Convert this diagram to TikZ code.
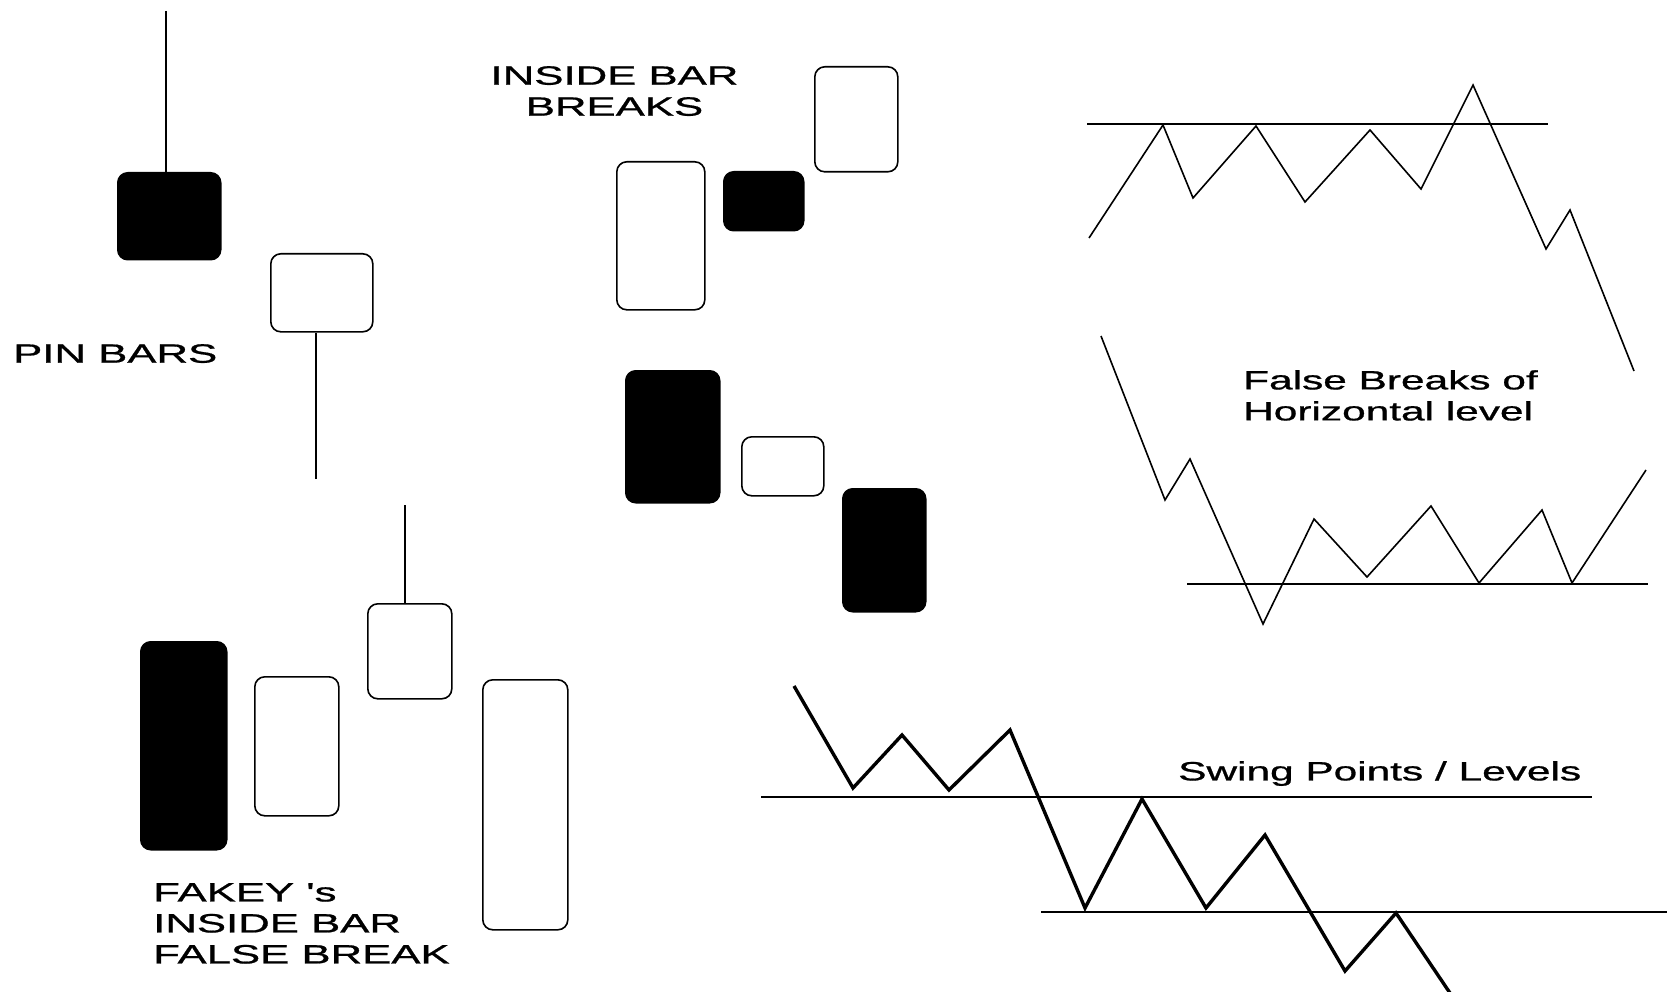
\documentclass[tikz,border=0pt]{standalone}
\usepackage{fontspec}
\setmainfont{Liberation Sans}
\newfontfamily\lblfont[FakeBold=0.7]{Liberation Sans}
\usepackage{graphicx}
\newcommand\widetxt[1]{\scalebox{1.6}[1]{#1}}
\newcommand\widecaps[1]{\scalebox{1.65}[1]{#1}}
\begin{document}
\begin{tikzpicture}[x=1pt,y=-1pt,
  bear/.style={draw=black, fill=black, line width=1.5pt, rounded corners=10pt, inner sep=0pt, anchor=north west},
  bull/.style={draw=black, fill=white, line width=1.6pt, rounded corners=10pt, inner sep=0pt, anchor=north west},
  wick/.style={line width=1.8pt},
  lbl/.style={inner sep=0pt, font=\lblfont\fontsize{26.5}{31}\selectfont, text=black},
  level/.style={line width=2.4pt},
  thinpath/.style={line width=1.6pt, line join=miter},
  thickpath/.style={line width=3.4pt, line join=miter}
]
\fill[white] (0,0) rectangle (1675,992);
\useasboundingbox (0,0) rectangle (1675,992);

% ---- Pin bars ----
\node[bear, minimum width=103pt, minimum height=87pt] (pb1) at (117,172) {};
\node[bull, minimum width=102pt, minimum height=78pt] (pb2) at (270,253) {};
\coordinate (pbw1) at (166,11);
\coordinate (pbw2) at (316,479);
\draw[wick] (pbw1) -- (pbw1 |- pb1.north);
\draw[wick] (pbw2) -- (pbw2 |- pb2.south);
\node[lbl, anchor=north west] (pinlbl) at (13,344) {\widecaps{PIN BARS}};

% ---- Inside bar breaks ----
\node[bull, minimum width=88pt, minimum height=148pt] (ib1) at (616,161) {};
\node[bear, minimum width=80pt, minimum height=59pt] (ib2) at (723,171) {};
\node[bull, minimum width=83pt, minimum height=105pt] (ib3) at (814,66) {};
\node[bear, minimum width=94pt, minimum height=132pt] (ib4) at (625,370) {};
\node[bull, minimum width=82pt, minimum height=59pt] (ib5) at (741,436) {};
\node[bear, minimum width=83pt, minimum height=123pt] (ib6) at (842,488) {};
\node[lbl, anchor=north, align=center] (iblbl) at (614.5,66) {\widecaps{INSIDE BAR}\\\widecaps{BREAKS}};

% ---- Fakey ----
\node[bear, minimum width=86pt, minimum height=208pt] (fk1) at (140,641) {};
\node[bull, minimum width=84pt, minimum height=139pt] (fk2) at (254,676) {};
\node[bull, minimum width=84pt, minimum height=95pt] (fk3) at (367,603) {};
\node[bull, minimum width=85pt, minimum height=250pt] (fk4) at (482,679) {};
\coordinate (fkw) at (405,505);
\draw[wick] (fkw) -- (fkw |- fk3.north);
\node[lbl, anchor=north west, align=left] (fklbl) at (153,883) {\widecaps{FAKEY 's}\\\widecaps{INSIDE BAR}\\\widecaps{FALSE BREAK}};

% ---- False breaks of horizontal level ----
\draw[level] (1087,124) -- (1548,124);
\draw[thinpath] (1089,238) -- (1163,125) -- (1193,198) -- (1256,126) -- (1305,202)
  -- (1370,130) -- (1421,189) -- (1473,85) -- (1546,249) -- (1570,210) -- (1634,371);
\draw[level] (1187,584) -- (1648,584);
\draw[thinpath] (1101,336) -- (1165,500) -- (1190,459) -- (1263,624) -- (1314,519)
  -- (1367,577) -- (1431,506) -- (1479,583) -- (1542,510) -- (1572,583) -- (1646,470);
\node[lbl, anchor=north west, align=left] (fblbl) at (1243,370) {\widetxt{False Breaks of}\\\widetxt{Horizontal level}};

% ---- Swing points / levels ----
\draw[level, line width=2pt] (761,797) -- (1592,797);
\draw[level, line width=2pt] (1041,912) -- (1667,912);
\draw[thickpath] (794,686) -- (853,788) -- (902,735) -- (949,790) -- (1010,730)
  -- (1085,908) -- (1142,799) -- (1206,908) -- (1265,835) -- (1345,971) -- (1396,913) -- (1452,996);
\node[lbl, anchor=north west] (swlbl) at (1178,761) {\widetxt{Swing Points / Levels}};
\end{tikzpicture}
\end{document}
